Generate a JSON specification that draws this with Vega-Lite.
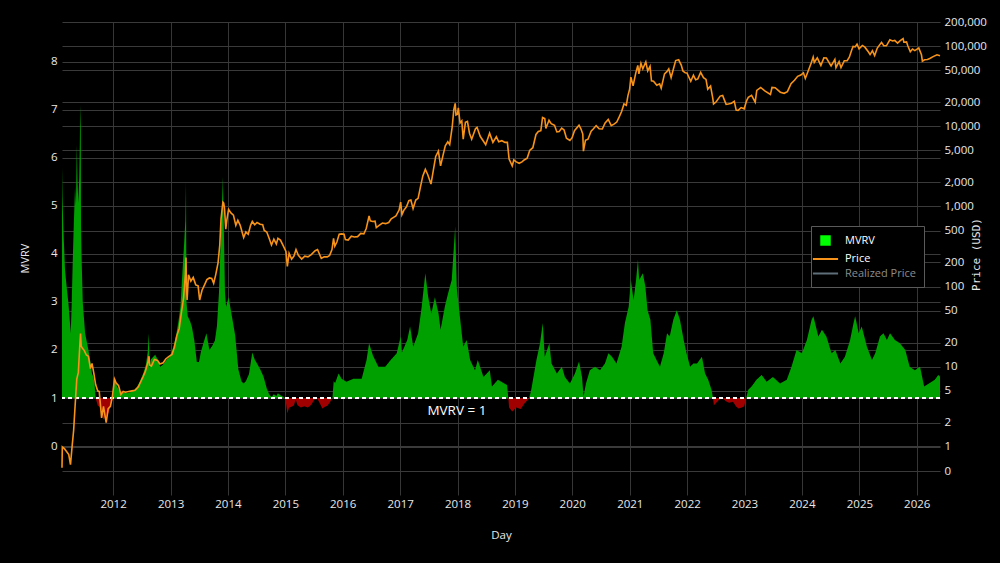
{
 "$schema": "https://vega.github.io/schema/vega-lite/v6.json",
 "width": 878,
 "height": 449,
 "autosize": {"type": "none"},
 "padding": {"left": 62, "top": 22, "right": 60, "bottom": 92},
 "background": "#000000",
 "config": {"view": {"stroke": null}, "font": "Open Sans", "legend": {"symbolFillColor": "transparent"}},
 "datasets": {
  "mvrv": [
   {"d":"2011-02-10","m":5.8,"g":"a1"},{"d":"2011-02-13","m":5.2,"g":"a1"},{"d":"2011-02-19","m":4.5,"g":"a1"},{"d":"2011-03-01","m":3.67,"g":"a1"},{"d":"2011-03-12","m":3.3,"g":"a1"},{"d":"2011-03-23","m":2.97,"g":"a1"},{"d":"2011-04-07","m":2.35,"g":"a1"},{"d":"2011-04-13","m":3.0,"g":"a1"},{"d":"2011-04-19","m":3.8,"g":"a1"},{"d":"2011-04-26","m":4.6,"g":"a1"},{"d":"2011-05-04","m":5.4,"g":"a1"},{"d":"2011-05-10","m":5.0,"g":"a1"},{"d":"2011-05-15","m":6.27,"g":"a1"},{"d":"2011-05-20","m":5.5,"g":"a1"},{"d":"2011-05-25","m":5.06,"g":"a1"},{"d":"2011-05-31","m":5.6,"g":"a1"},{"d":"2011-06-05","m":6.65,"g":"a1"},{"d":"2011-06-09","m":7.1,"g":"a1"},{"d":"2011-06-11","m":4.6,"g":"a1"},{"d":"2011-06-14","m":4.0,"g":"a1"},{"d":"2011-06-22","m":3.0,"g":"a1"},{"d":"2011-07-07","m":2.35,"g":"a1"},{"d":"2011-07-28","m":2.0,"g":"a1"},{"d":"2011-08-10","m":1.75,"g":"a1"},{"d":"2011-08-20","m":1.5,"g":"a1"},{"d":"2011-08-28","m":1.45,"g":"a1"},{"d":"2011-09-05","m":1.3,"g":"a1"},{"d":"2011-09-12","m":1.0,"g":"a1"},
   {"d":"2011-09-12","m":1.0,"g":"b1"},{"d":"2011-09-25","m":0.85,"g":"b1"},{"d":"2011-10-10","m":0.8,"g":"b1"},{"d":"2011-10-22","m":0.65,"g":"b1"},{"d":"2011-11-01","m":0.55,"g":"b1"},{"d":"2011-11-10","m":0.6,"g":"b1"},{"d":"2011-11-18","m":0.53,"g":"b1"},{"d":"2011-11-28","m":0.65,"g":"b1"},{"d":"2011-12-10","m":0.75,"g":"b1"},{"d":"2011-12-20","m":0.88,"g":"b1"},{"d":"2011-12-31","m":1.0,"g":"b1"},
   {"d":"2011-12-31","m":1.0,"g":"a2"},{"d":"2012-01-08","m":1.3,"g":"a2"},{"d":"2012-01-13","m":1.42,"g":"a2"},{"d":"2012-01-25","m":1.25,"g":"a2"},{"d":"2012-02-10","m":1.15,"g":"a2"},{"d":"2012-02-25","m":1.08,"g":"a2"},{"d":"2012-03-07","m":1.12,"g":"a2"},{"d":"2012-04-01","m":1.1,"g":"a2"},{"d":"2012-04-19","m":1.12,"g":"a2"},{"d":"2012-05-10","m":1.15,"g":"a2"},{"d":"2012-05-30","m":1.22,"g":"a2"},{"d":"2012-06-20","m":1.35,"g":"a2"},{"d":"2012-07-12","m":1.52,"g":"a2"},{"d":"2012-07-28","m":1.7,"g":"a2"},{"d":"2012-08-08","m":1.94,"g":"a2"},{"d":"2012-08-16","m":2.35,"g":"a2"},{"d":"2012-08-20","m":1.6,"g":"a2"},{"d":"2012-08-28","m":1.8,"g":"a2"},{"d":"2012-09-10","m":1.85,"g":"a2"},{"d":"2012-09-25","m":1.9,"g":"a2"},{"d":"2012-10-10","m":1.8,"g":"a2"},{"d":"2012-10-27","m":1.65,"g":"a2"},{"d":"2012-11-15","m":1.7,"g":"a2"},{"d":"2012-12-08","m":1.8,"g":"a2"},{"d":"2012-12-25","m":1.85,"g":"a2"},{"d":"2013-01-19","m":2.06,"g":"a2"},{"d":"2013-02-05","m":2.3,"g":"a2"},{"d":"2013-02-20","m":2.6,"g":"a2"},{"d":"2013-03-05","m":2.9,"g":"a2"},{"d":"2013-03-15","m":3.5,"g":"a2"},{"d":"2013-03-28","m":4.2,"g":"a2"},{"d":"2013-04-05","m":4.7,"g":"a2"},{"d":"2013-04-09","m":5.5,"g":"a2"},{"d":"2013-04-12","m":3.0,"g":"a2"},{"d":"2013-04-20","m":2.7,"g":"a2"},{"d":"2013-05-05","m":2.6,"g":"a2"},{"d":"2013-05-16","m":2.49,"g":"a2"},{"d":"2013-06-01","m":2.2,"g":"a2"},{"d":"2013-06-17","m":1.75,"g":"a2"},{"d":"2013-07-01","m":1.75,"g":"a2"},{"d":"2013-07-12","m":1.95,"g":"a2"},{"d":"2013-07-25","m":2.1,"g":"a2"},{"d":"2013-08-17","m":2.35,"g":"a2"},{"d":"2013-09-05","m":2.0,"g":"a2"},{"d":"2013-09-25","m":2.1,"g":"a2"},{"d":"2013-10-10","m":2.2,"g":"a2"},{"d":"2013-10-23","m":2.5,"g":"a2"},{"d":"2013-11-05","m":3.2,"g":"a2"},{"d":"2013-11-18","m":4.5,"g":"a2"},{"d":"2013-11-30","m":5.6,"g":"a2"},{"d":"2013-12-07","m":4.3,"g":"a2"},{"d":"2013-12-13","m":3.2,"g":"a2"},{"d":"2013-12-20","m":2.9,"g":"a2"},{"d":"2014-01-05","m":3.1,"g":"a2"},{"d":"2014-01-26","m":2.7,"g":"a2"},{"d":"2014-02-16","m":2.3,"g":"a2"},{"d":"2014-03-08","m":1.6,"g":"a2"},{"d":"2014-03-28","m":1.35,"g":"a2"},{"d":"2014-04-10","m":1.3,"g":"a2"},{"d":"2014-04-25","m":1.35,"g":"a2"},{"d":"2014-05-15","m":1.5,"g":"a2"},{"d":"2014-06-05","m":1.95,"g":"a2"},{"d":"2014-06-20","m":1.8,"g":"a2"},{"d":"2014-07-05","m":1.72,"g":"a2"},{"d":"2014-07-25","m":1.6,"g":"a2"},{"d":"2014-08-15","m":1.45,"g":"a2"},{"d":"2014-09-05","m":1.2,"g":"a2"},{"d":"2014-09-20","m":1.08,"g":"a2"},{"d":"2014-10-05","m":1.02,"g":"a2"},{"d":"2014-10-20","m":1.08,"g":"a2"},{"d":"2014-11-05","m":1.04,"g":"a2"},{"d":"2014-11-15","m":1.1,"g":"a2"},{"d":"2014-12-01","m":1.06,"g":"a2"},{"d":"2014-12-15","m":1.03,"g":"a2"},{"d":"2014-12-28","m":1.0,"g":"a2"},
   {"d":"2014-12-28","m":1.0,"g":"b2"},{"d":"2015-01-05","m":0.9,"g":"b2"},{"d":"2015-01-14","m":0.68,"g":"b2"},{"d":"2015-01-25","m":0.8,"g":"b2"},{"d":"2015-02-10","m":0.82,"g":"b2"},{"d":"2015-02-25","m":0.85,"g":"b2"},{"d":"2015-03-08","m":0.97,"g":"b2"},{"d":"2015-03-20","m":0.85,"g":"b2"},{"d":"2015-04-10","m":0.8,"g":"b2"},{"d":"2015-05-01","m":0.83,"g":"b2"},{"d":"2015-05-25","m":0.8,"g":"b2"},{"d":"2015-06-15","m":0.86,"g":"b2"},{"d":"2015-07-05","m":0.97,"g":"b2"},{"d":"2015-07-25","m":0.98,"g":"b2"},{"d":"2015-08-10","m":0.88,"g":"b2"},{"d":"2015-08-25","m":0.78,"g":"b2"},{"d":"2015-09-10","m":0.82,"g":"b2"},{"d":"2015-09-25","m":0.84,"g":"b2"},{"d":"2015-10-10","m":0.9,"g":"b2"},{"d":"2015-10-28","m":1.0,"g":"b2"},
   {"d":"2015-10-28","m":1.0,"g":"a3"},{"d":"2015-11-05","m":1.35,"g":"a3"},{"d":"2015-11-14","m":1.31,"g":"a3"},{"d":"2015-12-06","m":1.51,"g":"a3"},{"d":"2015-12-25","m":1.4,"g":"a3"},{"d":"2016-01-25","m":1.34,"g":"a3"},{"d":"2016-03-10","m":1.4,"g":"a3"},{"d":"2016-05-01","m":1.4,"g":"a3"},{"d":"2016-06-01","m":1.79,"g":"a3"},{"d":"2016-06-17","m":2.14,"g":"a3"},{"d":"2016-07-12","m":1.88,"g":"a3"},{"d":"2016-08-15","m":1.65,"g":"a3"},{"d":"2016-09-28","m":1.65,"g":"a3"},{"d":"2016-10-30","m":1.78,"g":"a3"},{"d":"2016-12-10","m":1.93,"g":"a3"},{"d":"2017-01-04","m":2.28,"g":"a3"},{"d":"2017-01-12","m":1.95,"g":"a3"},{"d":"2017-02-15","m":2.21,"g":"a3"},{"d":"2017-03-05","m":2.49,"g":"a3"},{"d":"2017-03-25","m":2.07,"g":"a3"},{"d":"2017-04-25","m":2.35,"g":"a3"},{"d":"2017-05-18","m":2.9,"g":"a3"},{"d":"2017-06-10","m":3.6,"g":"a3"},{"d":"2017-06-28","m":3.11,"g":"a3"},{"d":"2017-07-18","m":2.76,"g":"a3"},{"d":"2017-08-10","m":3.1,"g":"a3"},{"d":"2017-09-02","m":2.76,"g":"a3"},{"d":"2017-09-15","m":2.42,"g":"a3"},{"d":"2017-10-12","m":2.9,"g":"a3"},{"d":"2017-11-02","m":3.18,"g":"a3"},{"d":"2017-11-25","m":3.46,"g":"a3"},{"d":"2017-12-17","m":4.57,"g":"a3"},{"d":"2017-12-27","m":3.3,"g":"a3"},{"d":"2018-01-18","m":2.63,"g":"a3"},{"d":"2018-02-06","m":2.07,"g":"a3"},{"d":"2018-02-28","m":2.21,"g":"a3"},{"d":"2018-03-22","m":1.79,"g":"a3"},{"d":"2018-04-22","m":1.58,"g":"a3"},{"d":"2018-05-10","m":1.79,"g":"a3"},{"d":"2018-06-15","m":1.44,"g":"a3"},{"d":"2018-07-25","m":1.58,"g":"a3"},{"d":"2018-08-08","m":1.24,"g":"a3"},{"d":"2018-09-15","m":1.38,"g":"a3"},{"d":"2018-10-20","m":1.31,"g":"a3"},{"d":"2018-11-12","m":1.27,"g":"a3"},{"d":"2018-11-20","m":1.0,"g":"a3"},
   {"d":"2018-11-20","m":1.0,"g":"b3"},{"d":"2018-11-25","m":0.8,"g":"b3"},{"d":"2018-12-15","m":0.72,"g":"b3"},{"d":"2019-01-10","m":0.8,"g":"b3"},{"d":"2019-02-07","m":0.77,"g":"b3"},{"d":"2019-03-01","m":0.88,"g":"b3"},{"d":"2019-03-20","m":0.95,"g":"b3"},{"d":"2019-04-02","m":1.0,"g":"b3"},
   {"d":"2019-04-02","m":1.0,"g":"a4"},{"d":"2019-04-15","m":1.17,"g":"a4"},{"d":"2019-05-18","m":1.79,"g":"a4"},{"d":"2019-06-10","m":2.14,"g":"a4"},{"d":"2019-06-27","m":2.56,"g":"a4"},{"d":"2019-07-10","m":1.86,"g":"a4"},{"d":"2019-08-08","m":2.14,"g":"a4"},{"d":"2019-08-22","m":1.72,"g":"a4"},{"d":"2019-09-25","m":1.51,"g":"a4"},{"d":"2019-10-27","m":1.65,"g":"a4"},{"d":"2019-11-15","m":1.44,"g":"a4"},{"d":"2019-12-17","m":1.3,"g":"a4"},{"d":"2020-01-18","m":1.51,"g":"a4"},{"d":"2020-02-13","m":1.76,"g":"a4"},{"d":"2020-03-03","m":1.44,"g":"a4"},{"d":"2020-03-13","m":1.03,"g":"a4"},{"d":"2020-03-28","m":1.3,"g":"a4"},{"d":"2020-04-22","m":1.58,"g":"a4"},{"d":"2020-05-25","m":1.65,"g":"a4"},{"d":"2020-06-25","m":1.58,"g":"a4"},{"d":"2020-07-27","m":1.72,"g":"a4"},{"d":"2020-08-18","m":1.93,"g":"a4"},{"d":"2020-09-10","m":1.86,"g":"a4"},{"d":"2020-10-08","m":1.72,"g":"a4"},{"d":"2020-11-10","m":2.07,"g":"a4"},{"d":"2020-12-01","m":2.56,"g":"a4"},{"d":"2020-12-25","m":2.9,"g":"a4"},{"d":"2021-01-08","m":3.46,"g":"a4"},{"d":"2021-01-25","m":3.04,"g":"a4"},{"d":"2021-02-10","m":3.46,"g":"a4"},{"d":"2021-02-22","m":3.88,"g":"a4"},{"d":"2021-03-02","m":3.46,"g":"a4"},{"d":"2021-03-25","m":3.6,"g":"a4"},{"d":"2021-04-10","m":3.32,"g":"a4"},{"d":"2021-04-24","m":2.83,"g":"a4"},{"d":"2021-05-12","m":2.63,"g":"a4"},{"d":"2021-05-30","m":1.93,"g":"a4"},{"d":"2021-06-20","m":1.79,"g":"a4"},{"d":"2021-07-12","m":1.65,"g":"a4"},{"d":"2021-08-05","m":1.93,"g":"a4"},{"d":"2021-08-26","m":2.35,"g":"a4"},{"d":"2021-09-12","m":2.28,"g":"a4"},{"d":"2021-10-05","m":2.63,"g":"a4"},{"d":"2021-10-27","m":2.83,"g":"a4"},{"d":"2021-11-16","m":2.63,"g":"a4"},{"d":"2021-12-10","m":2.21,"g":"a4"},{"d":"2021-12-28","m":1.93,"g":"a4"},{"d":"2022-01-20","m":1.65,"g":"a4"},{"d":"2022-02-10","m":1.72,"g":"a4"},{"d":"2022-03-05","m":1.72,"g":"a4"},{"d":"2022-04-05","m":1.86,"g":"a4"},{"d":"2022-04-25","m":1.51,"g":"a4"},{"d":"2022-05-15","m":1.38,"g":"a4"},{"d":"2022-06-05","m":1.17,"g":"a4"},{"d":"2022-06-15","m":1.0,"g":"a4"},
   {"d":"2022-06-15","m":1.0,"g":"b4"},{"d":"2022-06-20","m":0.85,"g":"b4"},{"d":"2022-07-05","m":0.9,"g":"b4"},{"d":"2022-07-25","m":0.97,"g":"b4"},{"d":"2022-08-12","m":1.0,"g":"b4"},{"d":"2022-09-05","m":0.93,"g":"b4"},{"d":"2022-09-25","m":0.9,"g":"b4"},{"d":"2022-10-20","m":0.92,"g":"b4"},{"d":"2022-11-10","m":0.82,"g":"b4"},{"d":"2022-11-25","m":0.78,"g":"b4"},{"d":"2022-12-15","m":0.8,"g":"b4"},{"d":"2022-12-30","m":0.83,"g":"b4"},{"d":"2023-01-12","m":1.0,"g":"b4"},
   {"d":"2023-01-12","m":1.0,"g":"a5"},{"d":"2023-01-25","m":1.17,"g":"a5"},{"d":"2023-02-15","m":1.24,"g":"a5"},{"d":"2023-03-18","m":1.38,"g":"a5"},{"d":"2023-04-20","m":1.48,"g":"a5"},{"d":"2023-05-22","m":1.34,"g":"a5"},{"d":"2023-07-01","m":1.44,"g":"a5"},{"d":"2023-08-15","m":1.3,"g":"a5"},{"d":"2023-09-27","m":1.38,"g":"a5"},{"d":"2023-10-27","m":1.65,"g":"a5"},{"d":"2023-11-28","m":2.0,"g":"a5"},{"d":"2024-01-01","m":1.93,"g":"a5"},{"d":"2024-02-02","m":2.21,"g":"a5"},{"d":"2024-03-03","m":2.63,"g":"a5"},{"d":"2024-03-14","m":2.7,"g":"a5"},{"d":"2024-04-15","m":2.28,"g":"a5"},{"d":"2024-05-08","m":2.42,"g":"a5"},{"d":"2024-06-05","m":2.28,"g":"a5"},{"d":"2024-07-08","m":1.93,"g":"a5"},{"d":"2024-08-01","m":2.0,"g":"a5"},{"d":"2024-09-02","m":1.72,"g":"a5"},{"d":"2024-10-01","m":1.86,"g":"a5"},{"d":"2024-11-03","m":2.21,"g":"a5"},{"d":"2024-11-25","m":2.56,"g":"a5"},{"d":"2024-12-05","m":2.7,"g":"a5"},{"d":"2024-12-28","m":2.35,"g":"a5"},{"d":"2025-01-16","m":2.49,"g":"a5"},{"d":"2025-02-18","m":2.07,"g":"a5"},{"d":"2025-03-22","m":1.79,"g":"a5"},{"d":"2025-04-12","m":1.93,"g":"a5"},{"d":"2025-05-12","m":2.28,"g":"a5"},{"d":"2025-06-03","m":2.35,"g":"a5"},{"d":"2025-06-25","m":2.21,"g":"a5"},{"d":"2025-07-15","m":2.35,"g":"a5"},{"d":"2025-08-15","m":2.21,"g":"a5"},{"d":"2025-09-16","m":2.14,"g":"a5"},{"d":"2025-10-20","m":2.0,"g":"a5"},{"d":"2025-11-17","m":1.65,"g":"a5"},{"d":"2025-12-20","m":1.58,"g":"a5"},{"d":"2026-01-22","m":1.65,"g":"a5"},{"d":"2026-02-17","m":1.24,"g":"a5"},{"d":"2026-03-25","m":1.31,"g":"a5"},{"d":"2026-04-26","m":1.38,"g":"a5"},{"d":"2026-05-18","m":1.48,"g":"a5"},{"d":"2026-05-29","m":1.45,"g":"a5"}
  ],
  "price": [
   {"d":"2011-02-10","p":0.55},{"d":"2011-02-12","p":1.0},{"d":"2011-02-25","p":0.95},{"d":"2011-03-10","p":0.88},{"d":"2011-03-25","p":0.8},{"d":"2011-04-05","p":0.6},{"d":"2011-04-15","p":1.0},{"d":"2011-04-25","p":1.6},{"d":"2011-05-05","p":3.4},{"d":"2011-05-15","p":7.0},{"d":"2011-05-25","p":8.5},{"d":"2011-06-03","p":18},{"d":"2011-06-08","p":26},{"d":"2011-06-12","p":18},{"d":"2011-06-20","p":17},{"d":"2011-07-01","p":16},{"d":"2011-07-15","p":14},{"d":"2011-07-28","p":13.5},{"d":"2011-08-10","p":9.5},{"d":"2011-08-20","p":11},{"d":"2011-09-01","p":8.2},{"d":"2011-09-12","p":6.0},{"d":"2011-09-25","p":5.0},{"d":"2011-10-05","p":4.9},{"d":"2011-10-20","p":2.3},{"d":"2011-11-01","p":3.2},{"d":"2011-11-18","p":2.0},{"d":"2011-12-01","p":3.0},{"d":"2011-12-15","p":3.2},{"d":"2011-12-28","p":4.3},
   {"d":"2012-01-10","p":7.0},{"d":"2012-01-20","p":6.3},{"d":"2012-02-05","p":5.8},{"d":"2012-02-20","p":4.5},{"d":"2012-03-05","p":4.9},{"d":"2012-03-20","p":4.8},{"d":"2012-04-10","p":4.9},{"d":"2012-05-01","p":5.0},{"d":"2012-05-20","p":5.1},{"d":"2012-06-10","p":5.6},{"d":"2012-06-25","p":6.5},{"d":"2012-07-10","p":7.5},{"d":"2012-07-25","p":8.8},{"d":"2012-08-10","p":11.5},{"d":"2012-08-17","p":13.5},{"d":"2012-08-20","p":10.5},{"d":"2012-09-01","p":10.2},{"d":"2012-09-20","p":12.3},{"d":"2012-10-10","p":12},{"d":"2012-10-25","p":10.8},{"d":"2012-11-15","p":11.2},{"d":"2012-12-01","p":12.5},{"d":"2012-12-20","p":13.4},
   {"d":"2013-01-10","p":14.2},{"d":"2013-01-25","p":17.5},{"d":"2013-02-10","p":24.5},{"d":"2013-02-25","p":30},{"d":"2013-03-10","p":46},{"d":"2013-03-25","p":73},{"d":"2013-04-05","p":142},{"d":"2013-04-09","p":230},{"d":"2013-04-12","p":100},{"d":"2013-04-16","p":68},{"d":"2013-04-25","p":140},{"d":"2013-05-10","p":117},{"d":"2013-05-25","p":130},{"d":"2013-06-10","p":105},{"d":"2013-06-25","p":102},{"d":"2013-07-05","p":68},{"d":"2013-07-20","p":90},{"d":"2013-08-05","p":105},{"d":"2013-08-20","p":122},{"d":"2013-09-05","p":128},{"d":"2013-09-20","p":126},{"d":"2013-10-02","p":110},{"d":"2013-10-15","p":140},{"d":"2013-10-30","p":198},{"d":"2013-11-10","p":330},{"d":"2013-11-18","p":700},{"d":"2013-11-30","p":1130},{"d":"2013-12-05","p":1100},{"d":"2013-12-10","p":950},{"d":"2013-12-18","p":520},{"d":"2013-12-25","p":680},
   {"d":"2014-01-05","p":920},{"d":"2014-01-20","p":830},{"d":"2014-02-05","p":780},{"d":"2014-02-20","p":580},{"d":"2014-03-05","p":670},{"d":"2014-03-20","p":580},{"d":"2014-04-05","p":450},{"d":"2014-04-11","p":410},{"d":"2014-04-25","p":480},{"d":"2014-05-10","p":450},{"d":"2014-05-25","p":580},{"d":"2014-06-05","p":650},{"d":"2014-06-20","p":590},{"d":"2014-07-05","p":630},{"d":"2014-07-25","p":600},{"d":"2014-08-10","p":590},{"d":"2014-08-20","p":500},{"d":"2014-09-05","p":480},{"d":"2014-09-20","p":400},{"d":"2014-10-05","p":330},{"d":"2014-10-20","p":390},{"d":"2014-11-05","p":340},{"d":"2014-11-15","p":400},{"d":"2014-12-01","p":380},{"d":"2014-12-20","p":320},
   {"d":"2015-01-05","p":275},{"d":"2015-01-14","p":178},{"d":"2015-01-25","p":260},{"d":"2015-02-10","p":220},{"d":"2015-02-25","p":240},{"d":"2015-03-10","p":290},{"d":"2015-03-25","p":245},{"d":"2015-04-15","p":220},{"d":"2015-05-05","p":240},{"d":"2015-05-25","p":235},{"d":"2015-06-15","p":250},{"d":"2015-07-10","p":280},{"d":"2015-07-25","p":290},{"d":"2015-08-18","p":225},{"d":"2015-09-05","p":235},{"d":"2015-09-25","p":235},{"d":"2015-10-10","p":245},{"d":"2015-10-25","p":290},{"d":"2015-11-04","p":400},{"d":"2015-11-12","p":320},{"d":"2015-11-25","p":360},{"d":"2015-12-10","p":450},{"d":"2015-12-25","p":455},
   {"d":"2016-01-10","p":450},{"d":"2016-01-18","p":385},{"d":"2016-02-05","p":380},{"d":"2016-02-25","p":425},{"d":"2016-03-15","p":415},{"d":"2016-04-05","p":420},{"d":"2016-04-25","p":460},{"d":"2016-05-15","p":455},{"d":"2016-05-30","p":530},{"d":"2016-06-17","p":760},{"d":"2016-06-25","p":660},{"d":"2016-07-10","p":650},{"d":"2016-07-25","p":655},{"d":"2016-08-02","p":545},{"d":"2016-08-20","p":580},{"d":"2016-09-10","p":620},{"d":"2016-09-30","p":610},{"d":"2016-10-20","p":630},{"d":"2016-11-05","p":700},{"d":"2016-11-20","p":730},{"d":"2016-12-05","p":760},{"d":"2016-12-25","p":900},
   {"d":"2017-01-04","p":1130},{"d":"2017-01-12","p":790},{"d":"2017-01-25","p":900},{"d":"2017-02-10","p":990},{"d":"2017-02-25","p":1180},{"d":"2017-03-10","p":1200},{"d":"2017-03-24","p":940},{"d":"2017-04-10","p":1200},{"d":"2017-04-25","p":1260},{"d":"2017-05-10","p":1750},{"d":"2017-05-25","p":2400},{"d":"2017-06-10","p":2900},{"d":"2017-06-25","p":2500},{"d":"2017-07-16","p":1900},{"d":"2017-07-30","p":2750},{"d":"2017-08-15","p":4200},{"d":"2017-09-01","p":4900},{"d":"2017-09-15","p":3200},{"d":"2017-09-30","p":4300},{"d":"2017-10-15","p":5700},{"d":"2017-10-31","p":6400},{"d":"2017-11-12","p":5900},{"d":"2017-11-28","p":9800},{"d":"2017-12-08","p":16000},{"d":"2017-12-17","p":19300},{"d":"2017-12-22","p":13800},{"d":"2017-12-31","p":14100},
   {"d":"2018-01-06","p":17000},{"d":"2018-01-17","p":11000},{"d":"2018-01-28","p":11700},{"d":"2018-02-06","p":6900},{"d":"2018-02-20","p":11200},{"d":"2018-03-05","p":11500},{"d":"2018-03-18","p":8200},{"d":"2018-04-01","p":6900},{"d":"2018-04-25","p":9300},{"d":"2018-05-05","p":9700},{"d":"2018-05-25","p":7500},{"d":"2018-06-15","p":6500},{"d":"2018-06-29","p":5900},{"d":"2018-07-24","p":8200},{"d":"2018-08-14","p":6300},{"d":"2018-09-05","p":7400},{"d":"2018-09-20","p":6400},{"d":"2018-10-10","p":6600},{"d":"2018-10-30","p":6300},{"d":"2018-11-14","p":6300},{"d":"2018-11-25","p":3900},{"d":"2018-12-15","p":3200},{"d":"2018-12-25","p":3800},
   {"d":"2019-01-10","p":3600},{"d":"2019-01-28","p":3450},{"d":"2019-02-15","p":3600},{"d":"2019-03-01","p":3800},{"d":"2019-03-20","p":4000},{"d":"2019-04-05","p":5000},{"d":"2019-04-25","p":5400},{"d":"2019-05-15","p":7900},{"d":"2019-05-30","p":8600},{"d":"2019-06-15","p":8800},{"d":"2019-06-26","p":12900},{"d":"2019-07-10","p":12500},{"d":"2019-07-17","p":9400},{"d":"2019-08-06","p":11900},{"d":"2019-08-20","p":10800},{"d":"2019-09-10","p":10300},{"d":"2019-09-25","p":8500},{"d":"2019-10-10","p":8600},{"d":"2019-10-26","p":9500},{"d":"2019-11-10","p":9000},{"d":"2019-11-25","p":7100},{"d":"2019-12-17","p":6650},{"d":"2019-12-31","p":7200},
   {"d":"2020-01-15","p":8800},{"d":"2020-02-13","p":10300},{"d":"2020-02-25","p":9300},{"d":"2020-03-08","p":8000},{"d":"2020-03-12","p":4900},{"d":"2020-03-25","p":6700},{"d":"2020-04-10","p":6900},{"d":"2020-04-30","p":8700},{"d":"2020-05-15","p":9300},{"d":"2020-06-01","p":10200},{"d":"2020-06-20","p":9300},{"d":"2020-07-10","p":9250},{"d":"2020-07-28","p":11000},{"d":"2020-08-17","p":12200},{"d":"2020-09-05","p":10200},{"d":"2020-09-25","p":10700},{"d":"2020-10-10","p":11300},{"d":"2020-10-25","p":13000},{"d":"2020-11-10","p":15300},{"d":"2020-11-25","p":19000},{"d":"2020-12-10","p":18300},{"d":"2020-12-20","p":24000},{"d":"2020-12-31","p":29000},
   {"d":"2021-01-08","p":41000},{"d":"2021-01-22","p":32000},{"d":"2021-02-08","p":46000},{"d":"2021-02-21","p":57500},{"d":"2021-02-28","p":45000},{"d":"2021-03-13","p":61000},{"d":"2021-03-25","p":52000},{"d":"2021-04-13","p":63500},{"d":"2021-04-25","p":49000},{"d":"2021-05-10","p":56000},{"d":"2021-05-19","p":37000},{"d":"2021-06-01","p":36500},{"d":"2021-06-22","p":32500},{"d":"2021-07-10","p":33800},{"d":"2021-07-20","p":29800},{"d":"2021-08-10","p":45000},{"d":"2021-08-25","p":48000},{"d":"2021-09-06","p":52000},{"d":"2021-09-21","p":40500},{"d":"2021-10-05","p":51500},{"d":"2021-10-20","p":66000},{"d":"2021-11-08","p":67500},{"d":"2021-11-25","p":57500},{"d":"2021-12-05","p":49000},{"d":"2021-12-20","p":46500},{"d":"2021-12-31","p":46300},
   {"d":"2022-01-10","p":41800},{"d":"2022-01-24","p":36500},{"d":"2022-02-10","p":43500},{"d":"2022-02-24","p":38000},{"d":"2022-03-10","p":39000},{"d":"2022-03-28","p":47000},{"d":"2022-04-15","p":40500},{"d":"2022-05-01","p":38500},{"d":"2022-05-12","p":28900},{"d":"2022-05-30","p":31700},{"d":"2022-06-13","p":22400},{"d":"2022-06-18","p":19000},{"d":"2022-07-05","p":20200},{"d":"2022-07-30","p":23800},{"d":"2022-08-15","p":24200},{"d":"2022-08-25","p":21500},{"d":"2022-09-06","p":18800},{"d":"2022-09-20","p":19000},{"d":"2022-10-10","p":19400},{"d":"2022-10-28","p":20500},{"d":"2022-11-09","p":15900},{"d":"2022-11-21","p":15800},{"d":"2022-12-10","p":17100},{"d":"2022-12-30","p":16500},
   {"d":"2023-01-14","p":20800},{"d":"2023-01-25","p":23000},{"d":"2023-02-15","p":24300},{"d":"2023-03-10","p":20000},{"d":"2023-03-20","p":28000},{"d":"2023-04-14","p":30500},{"d":"2023-05-10","p":27600},{"d":"2023-06-15","p":25000},{"d":"2023-06-25","p":30500},{"d":"2023-07-15","p":30300},{"d":"2023-08-17","p":26600},{"d":"2023-09-10","p":25800},{"d":"2023-10-01","p":27000},{"d":"2023-10-24","p":34000},{"d":"2023-11-15","p":37500},{"d":"2023-12-05","p":42000},{"d":"2023-12-25","p":43500},
   {"d":"2024-01-11","p":46500},{"d":"2024-01-23","p":39500},{"d":"2024-02-15","p":51800},{"d":"2024-03-01","p":62000},{"d":"2024-03-13","p":73000},{"d":"2024-03-20","p":62500},{"d":"2024-04-08","p":71500},{"d":"2024-05-01","p":57500},{"d":"2024-05-20","p":71400},{"d":"2024-06-05","p":71000},{"d":"2024-07-05","p":56500},{"d":"2024-07-29","p":68200},{"d":"2024-08-05","p":53900},{"d":"2024-08-25","p":64200},{"d":"2024-09-06","p":53900},{"d":"2024-09-27","p":65800},{"d":"2024-10-15","p":66000},{"d":"2024-10-29","p":72700},{"d":"2024-11-12","p":88000},{"d":"2024-11-22","p":99000},{"d":"2024-12-05","p":98000},{"d":"2024-12-17","p":106000},{"d":"2024-12-30","p":92500},
   {"d":"2025-01-20","p":102000},{"d":"2025-02-05","p":97000},{"d":"2025-02-28","p":84300},{"d":"2025-03-10","p":78500},{"d":"2025-03-25","p":87500},{"d":"2025-04-08","p":76300},{"d":"2025-04-25","p":94500},{"d":"2025-05-22","p":111500},{"d":"2025-06-05","p":101500},{"d":"2025-06-22","p":101000},{"d":"2025-07-14","p":120000},{"d":"2025-07-31","p":115800},{"d":"2025-08-14","p":118000},{"d":"2025-09-01","p":109200},{"d":"2025-09-18","p":117000},{"d":"2025-10-06","p":124000},{"d":"2025-10-11","p":112000},{"d":"2025-10-28","p":113000},{"d":"2025-11-05","p":101000},{"d":"2025-11-21","p":85000},{"d":"2025-12-05","p":92000},{"d":"2025-12-20","p":88000},
   {"d":"2026-01-14","p":95000},{"d":"2026-01-31","p":78000},{"d":"2026-02-06","p":65000},{"d":"2026-02-20","p":67500},{"d":"2026-03-10","p":68000},{"d":"2026-03-25","p":70000},{"d":"2026-04-15","p":74000},{"d":"2026-05-10","p":78000},{"d":"2026-05-29","p":76000}
  ]
 },
 "layer": [
  {
   "layer": [
    {
     "data": {"name": "mvrv"},
     "transform": [{"filter": {"field": "g", "oneOf": ["a1", "a2", "a3", "a4", "a5"]}}],
     "mark": {"type": "area", "color": "#00a000", "interpolate": "linear"},
     "encoding": {
      "x": {
       "field": "d", "type": "temporal",
       "scale": {"type": "utc", "domain": [{"year": 2011, "month": 2, "date": 10, "utc": true}, {"year": 2026, "month": 5, "date": 29, "utc": true}], "nice": false},
       "axis": {
        "values": [{"year": 2012, "utc": true}, {"year": 2013, "utc": true}, {"year": 2014, "utc": true}, {"year": 2015, "utc": true}, {"year": 2016, "utc": true}, {"year": 2017, "utc": true}, {"year": 2018, "utc": true}, {"year": 2019, "utc": true}, {"year": 2020, "utc": true}, {"year": 2021, "utc": true}, {"year": 2022, "utc": true}, {"year": 2023, "utc": true}, {"year": 2024, "utc": true}, {"year": 2025, "utc": true}, {"year": 2026, "utc": true}],
        "format": "%Y", "grid": true, "gridColor": "#363636", "gridWidth": 1,
        "tickColor": "#363636", "tickSize": 24, "domain": false,
        "labelColor": "#e8e8e8", "labelFont": "Open Sans", "labelFontSize": 11.5, "labelPadding": 3,
        "labelFlush": false, "labelOverlap": false,
        "title": "Day", "titleColor": "#e8e8e8", "titleFont": "Open Sans", "titleFontSize": 11.5, "titleFontWeight": "normal",
        "titleY": 64, "titleBaseline": "middle"
       }
      },
      "y": {
       "field": "m", "type": "quantitative",
       "scale": {"domain": [-0.52, 8.83], "nice": false, "zero": false},
       "axis": {
        "values": [0, 1, 2, 3, 4, 5, 6, 7, 8], "grid": true, "gridColor": "#3a3a3a", "ticks": false, "domain": false,
        "labelColor": "#e8e8e8", "labelFont": "Open Sans", "labelFontSize": 11.5, "labelPadding": 5,
        "title": "MVRV", "titleColor": "#e8e8e8", "titleFont": "Open Sans", "titleFontSize": 11, "titleFontWeight": "normal",
        "titleX": -37, "titleY": 236, "titleAngle": 270, "titleAlign": "center", "titleBaseline": "middle"
       }
      },
      "y2": {"datum": 1},
      "detail": {"field": "g"}
     }
    },
    {
     "data": {"name": "mvrv"},
     "transform": [{"filter": {"field": "g", "oneOf": ["b1", "b2", "b3", "b4"]}}],
     "mark": {"type": "area", "color": "#a00000", "interpolate": "linear"},
     "encoding": {
      "x": {"field": "d", "type": "temporal"},
      "y": {"field": "m", "type": "quantitative"},
      "y2": {"datum": 1},
      "detail": {"field": "g"}
     }
    },
    {
     "data": {"values": [{}]},
     "mark": {"type": "rule", "color": "#ffffff", "strokeDash": [4, 3], "strokeWidth": 1.8},
     "encoding": {"y": {"datum": 1}}
    },
    {
     "data": {"values": [{"d": "2017-12-28", "m": 0.72, "t": "MVRV = 1"}]},
     "mark": {"type": "text", "color": "#ffffff", "fontSize": 13.5, "font": "Open Sans"},
     "encoding": {
      "x": {"field": "d", "type": "temporal"},
      "y": {"field": "m", "type": "quantitative"},
      "text": {"field": "t"}
     }
    },
    {
     "data": {"values": [{"k": "MVRV"}, {"k": "Price"}, {"k": "Realized Price"}]},
     "mark": {"type": "point", "opacity": 0, "filled": true, "strokeWidth": 2},
     "encoding": {
      "fill": {
       "field": "k", "type": "nominal",
       "scale": {"domain": ["MVRV", "Price", "Realized Price"], "range": ["#00ff00", "transparent", "transparent"]},
       "legend": {
        "orient": "none", "legendX": 749, "legendY": 204, "title": null,
        "fillColor": "#000000", "strokeColor": "#5a5a5a", "padding": 8,
        "labelColor": {"expr": "datum.value === 'Realized Price' ? '#8c8c8c' : '#ffffff'"},
        "labelFont": "Open Sans", "labelFontSize": 11, "labelOffset": 13,
        "symbolSize": 110, "symbolStrokeWidth": 2, "symbolOpacity": 1, "rowPadding": 2.5
       }
      },
      "stroke": {
       "field": "k", "type": "nominal",
       "scale": {"domain": ["MVRV", "Price", "Realized Price"], "range": ["transparent", "#f7931a", "#5f6f7a"]}
      },
      "shape": {
       "field": "k", "type": "nominal",
       "scale": {"domain": ["MVRV", "Price", "Realized Price"], "range": ["square", "M-2.4,0H2.4", "M-2.4,0H2.4"]}
      }
     }
    }
   ]
  },
  {
   "data": {"name": "price"},
   "mark": {"type": "line", "color": "#f7931a", "strokeWidth": 1.6},
   "encoding": {
    "x": {"field": "d", "type": "temporal"},
    "y": {
     "field": "p", "type": "quantitative",
     "scale": {"type": "log", "domain": [0.5, 200000], "nice": false},
     "axis": {
      "orient": "right",
      "values": [0.5, 1, 2, 5, 10, 20, 50, 100, 200, 500, 1000, 2000, 5000, 10000, 20000, 50000, 100000, 200000],
      "labelExpr": "datum.value < 1 ? '0' : format(datum.value, ',')",
      "grid": true, "gridColor": "#3a3a3a", "ticks": false, "domain": false,
      "labelColor": "#e8e8e8", "labelFont": "Open Sans", "labelFontSize": 11.5, "labelPadding": 4,
      "title": "Price (USD)", "titleColor": "#e8e8e8", "titleFont": "DejaVu Sans Mono", "titleFontSize": 11, "titleFontWeight": "normal",
      "titleX": 36, "titleY": 232, "titleAngle": 270, "titleAlign": "center", "titleBaseline": "middle"
     }
    }
   }
  }
 ],
 "resolve": {"scale": {"y": "independent"}}
}
